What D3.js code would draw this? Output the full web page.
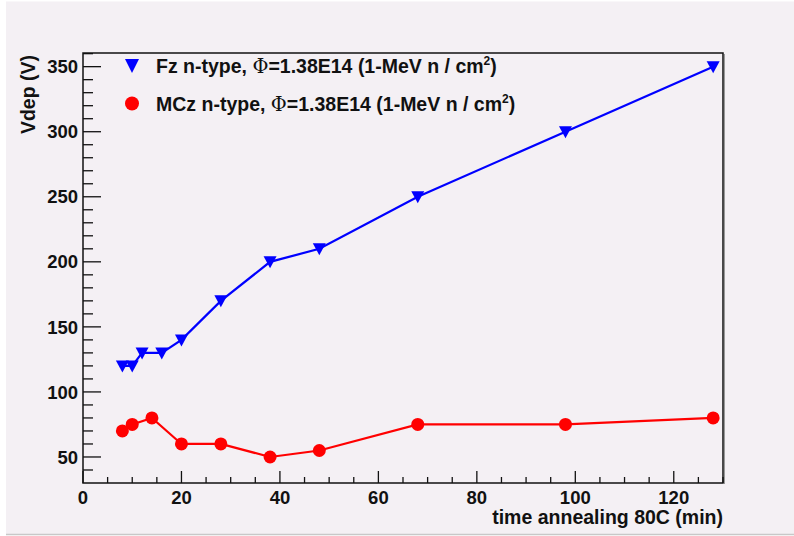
<!DOCTYPE html>
<html>
<head>
<meta charset="utf-8">
<script src="https://cdn.jsdelivr.net/npm/d3@7"></script>
<style>
  body { margin: 0; background: #fff; }
  svg { display: block; font-family: "Liberation Sans", Arial, sans-serif; font-weight: bold; }
</style>
</head>
<body>
<script>
// Fz n-type (blue triangles)
const fzTime = [8, 10, 12, 16, 20, 28, 38, 48, 68, 98, 128];
const fzVdep = [120, 120, 130, 130, 140, 170, 200, 210, 250, 300, 350];
// MCz n-type (red circles)
const mczTime = [8, 10, 14, 20, 28, 38, 48, 68, 98, 128];
const mczVdep = [70, 75, 80, 60, 60, 50, 55, 75, 75, 80];

const xTicks = [0, 20, 40, 60, 80, 100, 120];
const yTicks = [50, 100, 150, 200, 250, 300, 350];

const width = 794, height = 536;
const frame = {left: 83, right: 723, top: 53, bottom: 483};
const tickFont = 18.5, titleFont = 19.5;

const svg = d3.select("body").append("svg")
    .attr("width", width)
    .attr("height", height);

// canvas background
svg.append("rect")
    .attr("x", 6).attr("y", 1.5)
    .attr("width", width - 6).attr("height", 532.5)
    .attr("fill", "#f4f0f4");
svg.append("line")
    .attr("x1", 6).attr("x2", width)
    .attr("y1", 534.5).attr("y2", 534.5)
    .attr("stroke", "#c8c8c8").attr("stroke-width", 1.5);

const x = d3.scaleLinear().domain([0, 130]).range([frame.left, frame.right]);
const y = d3.scaleLinear().domain([30, 360.5]).range([frame.bottom, frame.top]);

// frame shadow + frame
svg.append("line")
    .attr("x1", frame.right + 1.5).attr("x2", frame.right + 1.5)
    .attr("y1", frame.top + 1).attr("y2", frame.bottom + 1)
    .attr("stroke", "#999").attr("stroke-width", 1);
svg.append("rect")
    .attr("x", frame.left).attr("y", frame.top)
    .attr("width", frame.right - frame.left)
    .attr("height", frame.bottom - frame.top)
    .attr("fill", "none")
    .attr("stroke", "#111")
    .attr("stroke-width", 1.5);

// x axis
const xAxis = svg.append("g");
xAxis.selectAll("line.minor")
    .data(d3.range(0, 131, 5))
    .join("line")
      .attr("x1", d => x(d)).attr("x2", d => x(d))
      .attr("y1", frame.bottom)
      .attr("y2", d => frame.bottom - (d % 20 === 0 ? 12 : 6))
      .attr("stroke", "#111").attr("stroke-width", 1.3);
xAxis.selectAll("text")
    .data(xTicks)
    .join("text")
      .attr("x", d => x(d))
      .attr("y", 503.5)
      .attr("text-anchor", "middle")
      .attr("font-size", tickFont)
      .attr("fill", "#111")
      .text(d => d);
xAxis.append("text")
    .attr("x", frame.right)
    .attr("y", 523.5)
    .attr("text-anchor", "end")
    .attr("font-size", titleFont)
    .attr("fill", "#111")
    .text("time annealing 80C (min)");

// y axis
const yAxis = svg.append("g");
yAxis.selectAll("line")
    .data(d3.range(40, 361, 10))
    .join("line")
      .attr("x1", frame.left)
      .attr("x2", d => frame.left + (d % 50 === 0 ? 18 : 10))
      .attr("y1", d => y(d)).attr("y2", d => y(d))
      .attr("stroke", "#111").attr("stroke-width", 1.3);
yAxis.selectAll("text")
    .data(yTicks)
    .join("text")
      .attr("x", 78)
      .attr("y", d => y(d))
      .attr("dy", "0.36em")
      .attr("text-anchor", "end")
      .attr("font-size", tickFont)
      .attr("fill", "#111")
      .text(d => d);
yAxis.append("text")
    .attr("transform", "translate(35,55) rotate(-90)")
    .attr("text-anchor", "end")
    .attr("font-size", titleFont)
    .attr("fill", "#111")
    .text("Vdep (V)");

// series
const series = [
  {time: fzTime, vdep: fzVdep, color: "#0000ff", marker: "tri"},
  {time: mczTime, vdep: mczVdep, color: "#ff0000", marker: "circ"}
];

const line = d3.line().x(d => x(d[0])).y(d => y(d[1]));
const triPath = "M-6.5,-5.5L6.5,-5.5L0,6.5Z";

for (const s of series) {
  const pts = d3.zip(s.time, s.vdep);
  svg.append("path")
      .attr("d", line(pts))
      .attr("fill", "none")
      .attr("stroke", s.color)
      .attr("stroke-width", 2.2);
  const g = svg.append("g").attr("fill", s.color);
  if (s.marker === "tri") {
    g.selectAll("path")
      .data(pts)
      .join("path")
        .attr("transform", d => `translate(${x(d[0])},${y(d[1])})`)
        .attr("d", triPath);
  } else {
    g.selectAll("circle")
      .data(pts)
      .join("circle")
        .attr("cx", d => x(d[0]))
        .attr("cy", d => y(d[1]))
        .attr("r", 6.5);
  }
}

// legend
const legend = svg.append("g").attr("font-size", titleFont).attr("fill", "#111");
legend.append("path")
    .attr("transform", "translate(132,65.5)")
    .attr("d", "M-7,-6.5L7,-6.5L0,7.5Z")
    .attr("fill", "#0000ff");
legend.append("circle")
    .attr("cx", 132).attr("cy", 103.5).attr("r", 7)
    .attr("fill", "#ff0000");

const labels = [["Fz", 72.5], ["MCz", 111]];
for (const [name, yy] of labels) {
  const t = legend.append("text").attr("x", 156).attr("y", yy);
  t.append("tspan").text(name + " n-type, ");
  t.append("tspan").attr("font-weight", "normal").attr("font-family", "DejaVu Serif, serif").text("Φ");
  t.append("tspan").text("=1.38E14 (1-MeV n / cm");
  t.append("tspan").attr("font-size", 12).attr("dy", -8).text("2");
  t.append("tspan").attr("dy", 8).text(")");
}
</script>
</body>
</html>
